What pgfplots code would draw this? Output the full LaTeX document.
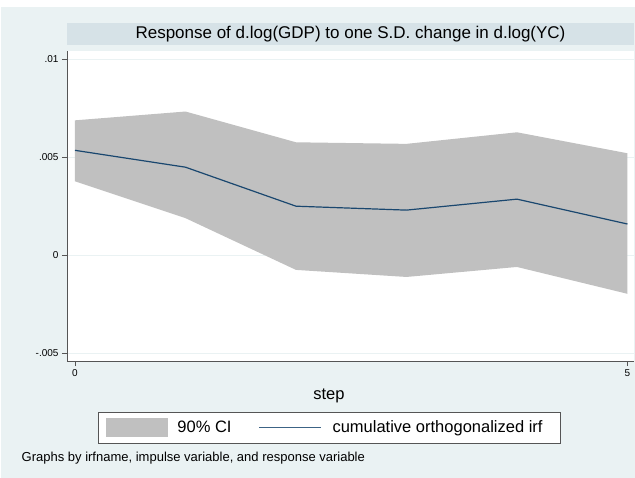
\documentclass[border=0pt]{standalone}
\usepackage{pgfplots}
\pgfplotsset{compat=1.18}
\usepackage{pgfplotstable}
\usepackage{fontspec}
\setmainfont{Liberation Sans}
\definecolor{outerbg}{RGB}{234,242,243}
\definecolor{titlebg}{RGB}{214,226,231}
\definecolor{cigray}{RGB}{192,192,192}
\definecolor{irfnavy}{RGB}{26,71,111}
\definecolor{axisgray}{RGB}{85,85,85}

% line: cumulative orthogonalized irf
\pgfplotstableread{
step irf
0 0.00534
1 0.00448
2 0.00249
3 0.00229
4 0.00285
5 0.00158
}\irfdata

% 90% CI band: upper bound 0..5, then lower bound 5..0
\pgfplotstableread{
step bound
0 0.00687
1 0.00732
2 0.00575
3 0.00567
4 0.00626
5 0.00519
5 -0.00198
4 -0.00061
3 -0.00112
2 -0.00076
1 0.00188
0 0.00376
}\cidata

\begin{document}
\begin{tikzpicture}
\useasboundingbox (0bp,0bp) rectangle (635bp,478bp);
\fill[white] (0bp,0bp) rectangle (635bp,478bp);
\fill[outerbg] (1bp,0bp) rectangle (635bp,471bp);
\begin{axis}[
  at={(67bp,117bp)}, anchor=south west,
  scale only axis, width=567bp, height=310bp,
  xmin=-0.0724, xmax=5.059, ymin=-0.005408, ymax=0.010408,
  axis background/.style={fill=white},
  axis x line*=bottom, axis y line*=left,
  axis line style={axisgray, line width=0.9bp},
  tick style={axisgray, line width=0.9bp},
  major tick length=5bp, tick align=outside,
  xtick={0,5}, xticklabels={0,5},
  ytick={-0.005,0,0.005,0.01}, yticklabels={-.005,0,.005,.01},
  scaled y ticks=false,
  ymajorgrids, grid style={outerbg, line width=0.8bp},
  tick label style={font=\fontsize{10bp}{12bp}\selectfont},
  title={Response of d.log(GDP) to one S.D. change in d.log(YC)},
  title style={at={(0.5,1)}, anchor=south, yshift=0pt, fill=titlebg,
    minimum width=567bp, minimum height=22bp, inner sep=0pt,
    font=\fontsize{17bp}{20bp}\selectfont},
  xlabel={step},
  xlabel style={at={(axis description cs:0.462,-0.1258)}, anchor=base,
    inner sep=0pt, font=\fontsize{16.5bp}{19bp}\selectfont},
  legend columns=2, legend cell align=left,
  legend style={at={(axis description cs:0.463,-0.2145)}, anchor=center,
    draw=axisgray, line width=0.9bp, fill=white,
    inner xsep=8bp, inner ysep=6bp, column sep=0pt, row sep=0pt,
    font=\fontsize{16.5bp}{19bp}\selectfont,
    nodes={inner xsep=4.5bp, inner ysep=0pt}},
]
\addplot[fill=cigray, draw=none,
  legend image code/.code={\fill[cigray] (0bp,-9.5bp) rectangle (62bp,9.5bp);}]
  table[x=step,y=bound]{\cidata} -- cycle;
\addlegendentry{\kern4.5bp 90\% CI\kern22.5bp}
\addplot[irfnavy, line width=1.2bp,
  legend image code/.code={\draw[irfnavy!85!white, line width=1bp] (0bp,0bp) -- (62bp,0bp);}]
  table[x=step,y=irf]{\irfdata};
\addlegendentry{\kern6.5bp cumulative orthogonalized irf\kern5.5bp}
\end{axis}
\node[anchor=base west, inner sep=0pt, font=\fontsize{13bp}{15bp}\selectfont] at (21.5bp,17bp) {Graphs by irfname, impulse variable, and response variable};
\end{tikzpicture}
\end{document}
